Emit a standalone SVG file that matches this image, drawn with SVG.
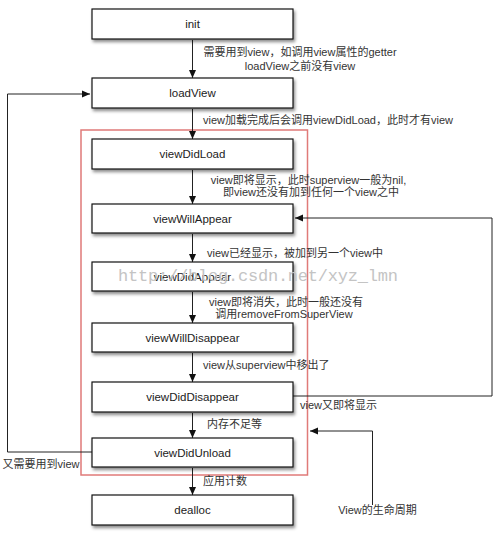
<svg xmlns="http://www.w3.org/2000/svg" width="500" height="534" viewBox="0 0 500 534">
<style>
.box{fill:#fff;stroke:#111;stroke-width:1.2;filter:url(#sh)}
.bt{font-family:"Liberation Sans",Arial,sans-serif;font-size:11.5px;fill:#222;text-anchor:middle;dominant-baseline:central}
.lb{font-family:"Liberation Sans","Noto Sans CJK SC",sans-serif;font-size:11px;fill:#333;dominant-baseline:central}
.ln{fill:none;stroke:#222;stroke-width:1}
.wm{font-family:"Liberation Mono",monospace;font-size:17px;fill:#c4c4c4;dominant-baseline:central}
</style>
<defs>
<filter id="sh" x="-10%" y="-30%" width="120%" height="170%">
<feDropShadow dx="1.5" dy="2.5" stdDeviation="1.5" flood-color="#000" flood-opacity="0.45"/>
</filter>
<marker id="ah" viewBox="0 0 8 8" refX="8" refY="4" markerWidth="8" markerHeight="8" markerUnits="userSpaceOnUse" orient="auto">
<path d="M0,0.5 L8,4 L0,7.5 Z" fill="#111"/>
</marker>
</defs>
<rect width="500" height="534" fill="#fff"/>

<rect x="81" y="130" width="226.5" height="345" fill="none" stroke="#e07a78" stroke-width="1.5"/>

<g id="connectors">
<line class="ln" x1="192.5" y1="40" x2="192.5" y2="78" marker-end="url(#ah)"/>
<line class="ln" x1="192.5" y1="109" x2="192.5" y2="139" marker-end="url(#ah)"/>
<line class="ln" x1="192.5" y1="170" x2="192.5" y2="204" marker-end="url(#ah)"/>
<line class="ln" x1="192.5" y1="234" x2="192.5" y2="262" marker-end="url(#ah)"/>
<line class="ln" x1="192.5" y1="292" x2="192.5" y2="323" marker-end="url(#ah)"/>
<line class="ln" x1="192.5" y1="353" x2="192.5" y2="382" marker-end="url(#ah)"/>
<line class="ln" x1="192.5" y1="413" x2="192.5" y2="438" marker-end="url(#ah)"/>
<line class="ln" x1="192.5" y1="468" x2="192.5" y2="495" marker-end="url(#ah)"/>
<polyline class="ln" points="92,452 7.5,452 7.5,94 90,94" marker-end="url(#ah)"/>
<polyline class="ln" points="293,396 492,396 492,218 295,218" marker-end="url(#ah)"/>
<polyline class="ln" points="372.5,505 372.5,431 310,431" marker-end="url(#ah)"/>
</g>

<g id="init"><rect class="box" x="92" y="9" width="201" height="30"/><text class="bt" x="192.5" y="24">init</text></g>
<g id="loadView"><rect class="box" x="92" y="78" width="201" height="30"/><text class="bt" x="192.5" y="93">loadView</text></g>
<g id="viewDidLoad"><rect class="box" x="92" y="139" width="201" height="30"/><text class="bt" x="192.5" y="154">viewDidLoad</text></g>
<g id="viewWillAppear"><rect class="box" x="92" y="204" width="201" height="29"/><text class="bt" x="192.5" y="218.5">viewWillAppear</text></g>
<g id="viewDidAppear"><rect class="box" x="92" y="262" width="201" height="29"/><text class="bt" x="192.5" y="276.5">viewDidAppear</text></g>
<g id="viewWillDisappear"><rect class="box" x="92" y="323" width="201" height="29"/><text class="bt" x="192.5" y="337.5">viewWillDisappear</text></g>
<g id="viewDidDisappear"><rect class="box" x="92" y="382" width="201" height="30"/><text class="bt" x="192.5" y="397">viewDidDisappear</text></g>
<g id="viewDidUnload"><rect class="box" x="92" y="438" width="201" height="29"/><text class="bt" x="192.5" y="452.5">viewDidUnload</text></g>
<g id="dealloc"><rect class="box" x="92" y="495" width="201" height="30"/><text class="bt" x="192.5" y="510">dealloc</text></g>

<g id="labels">
<text class="lb" x="300" y="52" text-anchor="middle">需要用到view，如调用view属性的getter</text>
<text class="lb" x="300" y="65.5" text-anchor="middle">loadView之前没有view</text>
<text class="lb" x="203" y="120">view加载完成后会调用viewDidLoad，此时才有view</text>
<text class="lb" x="308.5" y="180" text-anchor="middle">view即将显示，此时superview一般为nil,</text>
<text class="lb" x="311" y="192" text-anchor="middle">即view还没有加到任何一个view之中</text>
<text class="lb" x="207" y="252.5">view已经显示，被加到另一个view中</text>
<text class="lb" x="286" y="302" text-anchor="middle">view即将消失，此时一般还没有</text>
<text class="lb" x="284" y="313.5" text-anchor="middle">调用removeFromSuperView</text>
<text class="lb" x="203" y="365">view从superview中移出了</text>
<text class="lb" x="300" y="405">view又即将显示</text>
<text class="lb" x="207" y="424">内存不足等</text>
<text class="lb" x="2.5" y="464">又需要用到view</text>
<text class="lb" x="203" y="481">应用计数</text>
<text class="lb" x="377.5" y="509.5" text-anchor="middle">View的生命周期</text>
</g>

<text class="wm" x="118" y="276.5" textLength="280">http://blog.csdn.net/xyz_lmn</text>
</svg>
